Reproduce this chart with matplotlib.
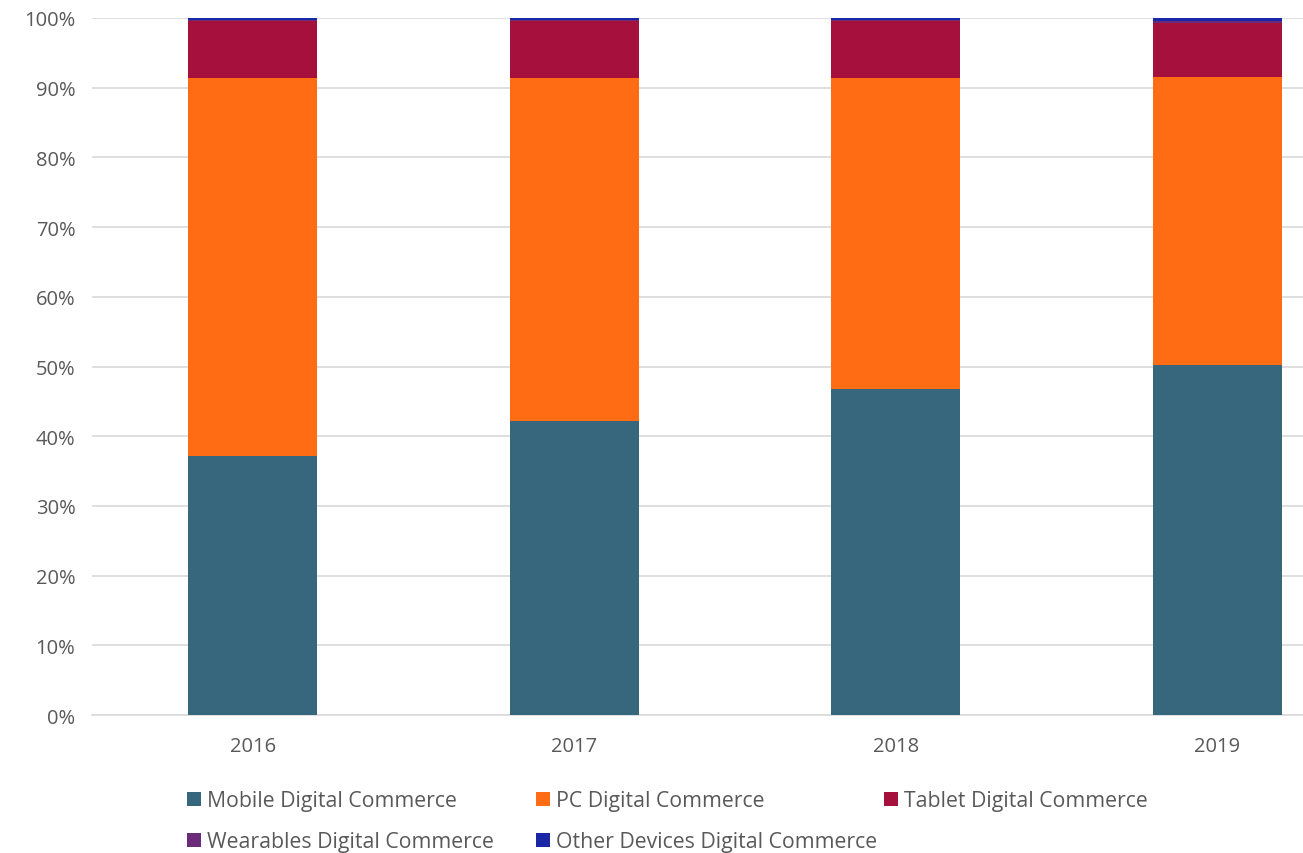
import matplotlib.pyplot as plt
import numpy as np

years = ["2016", "2017", "2018", "2019"]
mobile = [37.2, 42.2, 46.8, 50.2]
pc = [54.2, 49.2, 44.6, 41.3]
tablet = [8.2, 8.1, 8.1, 7.8]
wearables = [0.15, 0.2, 0.2, 0.3]
other = [0.25, 0.3, 0.3, 0.4]

series = [
    ("Mobile Digital Commerce", mobile, "#36677D"),
    ("PC Digital Commerce", pc, "#FF6C14"),
    ("Tablet Digital Commerce", tablet, "#A5113C"),
    ("Wearables Digital Commerce", wearables, "#6A2C7A"),
    ("Other Devices Digital Commerce", other, "#1A28A8"),
]

plt.rcParams['font.family'] = ['Open Sans', 'DejaVu Sans']
text_color = "#595959"

fig = plt.figure(figsize=(13.03, 8.54), dpi=100)
ax = fig.add_axes([92 / 1303, 1 - 716 / 854, (1378 - 92) / 1303, (716 - 19) / 854])

x = np.arange(len(years))
bottom = np.zeros(len(years))
handles = []
for name, vals, color in series:
    vals = np.array(vals)
    h = ax.bar(x, vals, 0.4, bottom=bottom, color=color, label=name, zorder=3)
    handles.append(h)
    bottom += vals

ax.set_xlim(-0.5, 3.5)
ax.set_ylim(0, 100)
ax.set_yticks(np.arange(0, 101, 10))
ax.set_yticklabels([f"{v}%" for v in range(0, 101, 10)])
ax.set_xticks(x)
ax.set_xticklabels(years)
ax.yaxis.grid(True, color="#D9D9D9", linewidth=1.2, zorder=0)
ax.tick_params(length=0, labelsize=14.5, colors=text_color)
ax.tick_params(axis="x", pad=15)
ax.tick_params(axis="y", pad=12)
for s in ["top", "right", "left"]:
    ax.spines[s].set_visible(False)
ax.spines["bottom"].set_color("#D9D9D9")
ax.spines["bottom"].set_linewidth(1.2)

# Excel-style legend: equal-width columns, filled row by row
columns = [[0, 3], [1, 4], [2]]
col_x = [168, 517, 865]
for cols, cx in zip(columns, col_x):
    leg = fig.legend([handles[i] for i in cols], [series[i][0] for i in cols],
                     loc="upper left", bbox_to_anchor=(cx / 1303, 1 - 772 / 854),
                     frameon=False, fontsize=15.3, handlelength=0.65, handleheight=0.65,
                     handletextpad=0.3, labelspacing=0.95)
    for t in leg.get_texts():
        t.set_color(text_color)

fig.savefig("out.png", dpi=100)
